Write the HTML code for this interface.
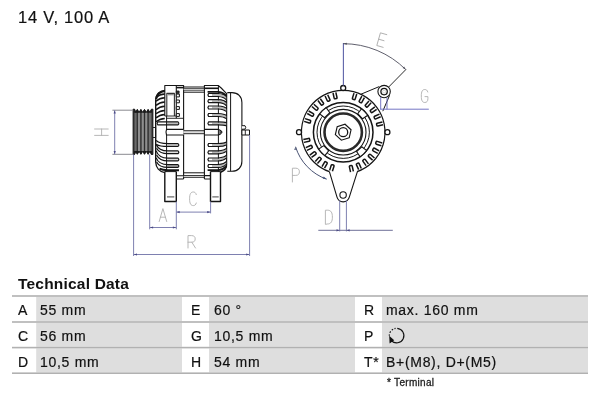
<!DOCTYPE html>
<html><head><meta charset="utf-8">
<style>
html,body{margin:0;padding:0;background:#fff;}
body{width:600px;height:400px;position:relative;overflow:hidden;font-family:"Liberation Sans",sans-serif;color:#111;}
#title,#th,#foot,.k,.v{will-change:transform;}
.k,.v{transform:translateY(0.6px);-webkit-text-stroke:0.2px #111;}
#title{position:absolute;left:18px;top:8px;-webkit-text-stroke:0.2px #111;font-size:16.5px;letter-spacing:0.75px;white-space:nowrap;}
#th{position:absolute;left:18.3px;top:275.1px;font-size:15.5px;font-weight:bold;letter-spacing:0.2px;white-space:nowrap;}
.row{position:absolute;left:12px;width:576px;height:25px;}
.cell{position:absolute;top:0.5px;height:25px;background:#dedede;}
.k{position:absolute;top:0;height:25px;line-height:26px;font-size:14px;letter-spacing:0.7px;}
.v{position:absolute;top:0;height:25px;line-height:26px;font-size:14px;letter-spacing:0.7px;white-space:nowrap;}
#foot{position:absolute;left:386.5px;top:376.9px;font-size:10px;letter-spacing:0.3px;-webkit-text-stroke:0.3px #222;color:#222;}
svg{position:absolute;left:0;top:0;}
</style></head><body>
<svg id="bg" width="600" height="400" viewBox="0 0 600 400">
<rect x="36.2" y="296.8" width="145.8" height="24.4" fill="#dedede"/>
<rect x="209" y="296.8" width="146.0" height="24.4" fill="#dedede"/>
<rect x="382" y="296.8" width="206.0" height="24.4" fill="#dedede"/>
<rect x="36.2" y="322.8" width="145.8" height="24.0" fill="#dedede"/>
<rect x="209" y="322.8" width="146.0" height="24.0" fill="#dedede"/>
<rect x="382" y="322.8" width="206.0" height="24.0" fill="#dedede"/>
<rect x="36.2" y="348.4" width="145.8" height="24.0" fill="#dedede"/>
<rect x="209" y="348.4" width="146.0" height="24.0" fill="#dedede"/>
<rect x="382" y="348.4" width="206.0" height="24.0" fill="#dedede"/>
<rect x="12" y="295.2" width="576" height="1.6" fill="#b1b1b1"/>
<rect x="12" y="321.2" width="576" height="1.6" fill="#b1b1b1"/>
<rect x="12" y="346.8" width="576" height="1.6" fill="#b1b1b1"/>
<rect x="12" y="372.4" width="576" height="1.6" fill="#b1b1b1"/>
</svg>
<div id="title">14 V, 100 A</div>
<div id="th">Technical Data</div>
<div class="row" style="top:296px">
 <span class="k" style="left:5.8px">A</span><span class="v" style="left:28.3px">55 mm</span>
 <span class="k" style="left:179.1px">E</span><span class="v" style="left:201.5px">60 °</span>
 <span class="k" style="left:351.8px">R</span><span class="v" style="left:374px">max. 160 mm</span>
</div>
<div class="row" style="top:322px">
 <span class="k" style="left:5.8px">C</span><span class="v" style="left:28.3px">56 mm</span>
 <span class="k" style="left:179.1px">G</span><span class="v" style="left:201.5px">10,5 mm</span>
 <span class="k" style="left:351.8px">P</span><span class="v" style="left:374px"></span>
</div>
<div class="row" style="top:347.5px">
 <span class="k" style="left:5.8px">D</span><span class="v" style="left:28.3px">10,5 mm</span>
 <span class="k" style="left:179.1px">H</span><span class="v" style="left:201.5px">54 mm</span>
 <span class="k" style="left:351.8px">T*</span><span class="v" style="left:374px">B+(M8), D+(M5)</span>
</div>
<div id="foot">* Terminal</div>
<svg id="draw" width="600" height="400" viewBox="0 0 600 400" fill="none">
<g stroke="#151515" stroke-width="1.1" stroke-linejoin="round" stroke-linecap="butt">
<path d="M133.1,109.2 L134.6,109.2 L135.7,112.3 L137.3,109.4 L139.1,112.3 L140.9,109.4 L142.7,112.3 L144.5,109.4 L146.3,112.3 L148.1,109.4 L149.9,112.3 L151.4,109.2 L152.9,109.2 L152.9,154.5 L151.4,154.5 L149.9,151.4 L148.1,154.3 L146.3,151.4 L144.5,154.3 L142.7,151.4 L140.9,154.3 L139.1,151.4 L137.3,154.3 L135.7,151.4 L134.6,154.5 L133.1,154.5Z" fill="#626262" stroke="#222" stroke-width="1"/>
<line x1="139.1" y1="112.5" x2="139.1" y2="151.2" stroke="#8e8e8e" stroke-width="2.3"/>
<line x1="142.7" y1="112.5" x2="142.7" y2="151.2" stroke="#8e8e8e" stroke-width="2.3"/>
<line x1="146.3" y1="112.5" x2="146.3" y2="151.2" stroke="#8e8e8e" stroke-width="2.3"/>
<line x1="135.7" y1="112.5" x2="135.7" y2="151.2" stroke="#6a6a6a" stroke-width="1.6"/>
<line x1="149.9" y1="112.5" x2="149.9" y2="151.2" stroke="#727272" stroke-width="1.8"/>
<line x1="137.3" y1="110.2" x2="137.3" y2="153.5" stroke="#2e2e2e" stroke-width="1.2"/>
<path d="M135.4,112.8 L137.3,109.10000000000001 L139.20000000000002,112.8Z M135.4,150.9 L137.3,154.6 L139.20000000000002,150.9Z" fill="#1a1a1a" stroke="none"/>
<line x1="140.9" y1="110.2" x2="140.9" y2="153.5" stroke="#2e2e2e" stroke-width="1.2"/>
<path d="M139.0,112.8 L140.9,109.10000000000001 L142.8,112.8Z M139.0,150.9 L140.9,154.6 L142.8,150.9Z" fill="#1a1a1a" stroke="none"/>
<line x1="144.5" y1="110.2" x2="144.5" y2="153.5" stroke="#2e2e2e" stroke-width="1.2"/>
<path d="M142.6,112.8 L144.5,109.10000000000001 L146.4,112.8Z M142.6,150.9 L144.5,154.6 L146.4,150.9Z" fill="#1a1a1a" stroke="none"/>
<line x1="148.1" y1="110.2" x2="148.1" y2="153.5" stroke="#2e2e2e" stroke-width="1.2"/>
<path d="M146.2,112.8 L148.1,109.10000000000001 L150.0,112.8Z M146.2,150.9 L148.1,154.6 L150.0,150.9Z" fill="#1a1a1a" stroke="none"/>
<path d="M133.1,109.2 H134.8 L136.2,112.8 H133.1Z M152.9,109.2 H151.2 L149.8,112.8 H152.9Z M133.1,154.5 H134.8 L136.2,150.9 H133.1Z M152.9,154.5 H151.2 L149.8,150.9 H152.9Z" fill="#1a1a1a" stroke="none"/>
<line x1="133.7" y1="109.2" x2="133.7" y2="154.5" stroke="#2a2a2a" stroke-width="1.3"/>
<line x1="152.3" y1="109.2" x2="152.3" y2="154.5" stroke="#2a2a2a" stroke-width="1.3"/>
<rect x="152.9" y="127.5" width="2.7" height="10" fill="#fff" stroke-width="0.9"/>
<path d="M164.8,94.0 C161.5,94.2 158.4,95.3 156.0,97.4" stroke-width="1.5"/>
<path d="M164.8,97.8 C161.5,98.0 158.4,99.1 156.0,101.2" stroke-width="1.5"/>
<path d="M164.8,102.0 C161.5,102.2 158.4,103.3 156.0,105.4" stroke-width="1.5"/>
<path d="M164.8,106.3 C161.5,106.5 158.4,107.6 156.0,109.7" stroke-width="1.5"/>
<path d="M164.8,110.4 C161.5,110.6 158.4,111.7 156.0,113.8" stroke-width="1.5"/>
<path d="M164.8,114.5 C161.5,114.7 158.4,115.8 156.0,117.9" stroke-width="1.5"/>
<path d="M164.8,118.4 C161.5,118.6 158.4,119.7 156.0,121.8" stroke-width="1.5"/>
<path d="M164.8,90.9 C160.2,91.5 156.8,94.4 156,99" stroke-width="2.2"/>
<path d="M164.8,90.6 C160,91.2 156.2,94.5 155.7,100 L155.7,162 C155.9,167.5 159.5,171.6 164.8,172.6" stroke-width="1.4"/>
<path d="M164.8,116 V85.5 H183.6 V179" />
<line x1="176.3" y1="85.5" x2="176.3" y2="118.3"/>
<line x1="176.3" y1="87.6" x2="183.6" y2="87.6" stroke-width="1.6"/>
<path d="M166.8,116 V93.4 H174.4 V116" stroke-width="1.1" stroke="#333"/>
<line x1="167.5" y1="94.7" x2="173.8" y2="94.7" stroke="#888" stroke-width="1.2"/>
<line x1="164.8" y1="116" x2="176.3" y2="116" stroke-width="0.9"/>
<line x1="166.6" y1="116" x2="166.6" y2="171.6" stroke-width="1"/>
<rect x="176.3" y="94.1" width="3.1" height="2.8" fill="#fff" stroke-width="1"/>
<rect x="176.3" y="100.0" width="3.1" height="2.8" fill="#fff" stroke-width="1"/>
<rect x="176.3" y="106.6" width="3.1" height="2.8" fill="#fff" stroke-width="1"/>
<rect x="176.3" y="113.6" width="3.1" height="2.8" fill="#fff" stroke-width="1"/>
<rect x="176.3" y="91" width="2.8" height="2.4" fill="#333" stroke-width="0.8"/>
<line x1="166.6" y1="118.3" x2="183.6" y2="118.3" stroke-width="0.9"/>
<rect x="167" y="122.4" width="11.4" height="2" fill="#bdbdbd" stroke="none"/>
<path d="M157.8,121.9 H178 Q179.6,123.4 178,124.9 H157.8 Q156.4,123.4 157.8,121.9Z" stroke-width="1.1"/>
<rect x="167" y="144" width="11.4" height="2" fill="#e4e4e4" stroke="none"/>
<path d="M156.2,140.4 C158,142.9 162,143.6 168,143.6 H178 Q179.6,145 178,146.4 H168 C162.5,146.4 158.6,145.8 156.6,144.4" stroke-width="1.2"/>
<rect x="167" y="151.3" width="11.4" height="2" fill="#e0e0e0" stroke="none"/>
<path d="M156.2,144.2 C158,149.0 162,150.9 168,150.9 H178 Q179.6,152.3 178,153.70000000000002 H168 C162.5,153.70000000000002 158.6,152.1 156.6,148.2" stroke-width="1.2"/>
<rect x="167" y="158.5" width="11.4" height="2" fill="#d8d8d8" stroke="none"/>
<path d="M156.2,150.9 C158,156.0 162,158.1 168,158.1 H178 Q179.6,159.5 178,160.9 H168 C162.5,160.9 158.6,159.1 156.6,154.9" stroke-width="1.2"/>
<rect x="167" y="165" width="11.4" height="2" fill="#b0b0b0" stroke="none"/>
<path d="M156.2,157.9 C158,162.7 162,164.6 168,164.6 H178 Q179.6,166 178,167.4 H168 C162.5,167.4 158.6,165.8 156.6,161.9" stroke-width="1.2"/>
<path d="M159.5,168.6 C162,170 165,170.2 168,170.2 H179" stroke-width="1.9"/>
<path d="M176.3,175.7 H183.6 M176.3,179 H183.6" stroke-width="1.1"/>
<line x1="183.6" y1="87" x2="204.4" y2="87" stroke-width="1.0"/>
<line x1="183.6" y1="88.5" x2="204.4" y2="88.5" stroke-width="1.0"/>
<line x1="183.6" y1="90.2" x2="204.4" y2="90.2" stroke-width="0.9"/>
<line x1="183.6" y1="92.2" x2="204.4" y2="92.2" stroke-width="1.0"/>
<rect x="183.6" y="88.6" width="20.8" height="1.5" fill="#ccc" stroke="none"/>
<line x1="183.6" y1="172.8" x2="204.4" y2="172.8" stroke-width="1.0"/>
<line x1="183.6" y1="175.6" x2="204.4" y2="175.6" stroke-width="1.0"/>
<line x1="183.6" y1="177.3" x2="204.4" y2="177.3" stroke-width="1.0"/>
<rect x="183.6" y="175.9" width="20.8" height="1.2" fill="#ccc" stroke="none"/>
<path d="M183.6,129.4 H166.5 Q165.4,132.2 166.5,135 H183.6" fill="#fff" stroke-width="1.1"/>
<rect x="183.6" y="130.9" width="20.8" height="2.6" fill="#ddd" stroke="none"/>
<line x1="183.6" y1="130.7" x2="204.4" y2="130.7" stroke-width="0.9"/>
<line x1="183.6" y1="133.7" x2="204.4" y2="133.7" stroke-width="0.9"/>
<path d="M204.4,129.4 H218.5 L220.5,130.4 L222,132.2 L220.5,134 L218.5,135 H204.4" fill="#fff" stroke-width="1.1"/>
<path d="M219.3,130 L221.7,132.2 L219.3,134.4Z" fill="#444" stroke="none"/>
<path d="M204.4,179 V85.5 H218.2 L221.2,88 L226.6,93.6" />
<line x1="204.4" y1="88.3" x2="218.4" y2="88.3" stroke-width="1.6"/>
<line x1="218.4" y1="85.5" x2="218.4" y2="172" stroke-width="1"/>
<path d="M226.9,93 V164 C226.5,168 224,171 220.6,172.2" stroke-width="1.7"/>
<path d="M212,94 H218.4 C222,94.32 224.6,95.44 226.2,97.20 L226.2,99.20 C224.4,97.44 222,96.32 218.4,96 H212Z" fill="#b8b8b8" stroke="none"/>
<path d="M226.5,96.70 C225,94.94 222,93.82 218.4,93.5 H208.6 Q207.2,95 208.6,96.5 H218.4 C222,96.82 224.6,97.94 226.1,99.70" stroke-width="1.2"/>
<path d="M212,100.2 H218.4 C222,100.48 224.6,101.46 226.2,103.00 L226.2,105.00 C224.4,103.46 222,102.48 218.4,102.2 H212Z" fill="#b8b8b8" stroke="none"/>
<path d="M226.5,102.50 C225,100.96 222,99.98 218.4,99.7 H208.6 Q207.2,101.2 208.6,102.7 H218.4 C222,102.98 224.6,103.96 226.1,105.50" stroke-width="1.2"/>
<path d="M212,106.5 H218.4 C222,106.74 224.6,107.58 226.2,108.90 L226.2,110.90 C224.4,109.58 222,108.74 218.4,108.5 H212Z" fill="#b8b8b8" stroke="none"/>
<path d="M226.5,108.40 C225,107.08 222,106.24 218.4,106.0 H208.6 Q207.2,107.5 208.6,109.0 H218.4 C222,109.24 224.6,110.08 226.1,111.40" stroke-width="1.2"/>
<path d="M212,114 H218.4 C222,114.20 224.6,114.90 226.2,116.00 L226.2,118.00 C224.4,116.90 222,116.20 218.4,116 H212Z" fill="#b8b8b8" stroke="none"/>
<path d="M226.5,115.50 C225,114.40 222,113.70 218.4,113.5 H208.6 Q207.2,115 208.6,116.5 H218.4 C222,116.70 224.6,117.40 226.1,118.50" stroke-width="1.2"/>
<path d="M207.6,91.8 H218.4 C222,92.3 224.6,93.5 226.4,96" stroke-width="1.7"/>
<path d="M212,122.4 H218.4 C222,122.48 224.6,122.76 226.2,123.20 L226.2,125.20 C224.4,124.76 222,124.48 218.4,124.4 H212Z" fill="#b8b8b8" stroke="none"/>
<path d="M226.5,122.70 C225,122.26 222,121.98 218.4,121.9 H208.6 Q207.2,123.4 208.6,124.9 H218.4 C222,124.98 224.6,125.26 226.1,125.70" stroke-width="1.2"/>
<path d="M212,144 H218.4 C222,143.84 224.6,143.28 226.2,142.40 L226.2,144.40 C224.4,145.28 222,145.84 218.4,146 H212Z" fill="#b8b8b8" stroke="none"/>
<path d="M226.5,141.90 C225,142.78 222,143.34 218.4,143.5 H208.6 Q207.2,145 208.6,146.5 H218.4 C222,146.34 224.6,145.78 226.1,144.90" stroke-width="1.2"/>
<path d="M212,151.3 H218.4 C222,151.06 224.6,150.22 226.2,148.90 L226.2,150.90 C224.4,152.22 222,153.06 218.4,153.3 H212Z" fill="#b8b8b8" stroke="none"/>
<path d="M226.5,148.40 C225,149.72 222,150.56 218.4,150.8 H208.6 Q207.2,152.3 208.6,153.8 H218.4 C222,153.56 224.6,152.72 226.1,151.40" stroke-width="1.2"/>
<path d="M212,158.5 H218.4 C222,158.22 224.6,157.24 226.2,155.70 L226.2,157.70 C224.4,159.24 222,160.22 218.4,160.5 H212Z" fill="#b8b8b8" stroke="none"/>
<path d="M226.5,155.20 C225,156.74 222,157.72 218.4,158.0 H208.6 Q207.2,159.5 208.6,161.0 H218.4 C222,160.72 224.6,159.74 226.1,158.20" stroke-width="1.2"/>
<path d="M212,165 H218.4 C222,164.68 224.6,163.56 226.2,161.80 L226.2,163.80 C224.4,165.56 222,166.68 218.4,167 H212Z" fill="#b8b8b8" stroke="none"/>
<path d="M226.5,161.30 C225,163.06 222,164.18 218.4,164.5 H208.6 Q207.2,166 208.6,167.5 H218.4 C222,167.18 224.6,166.06 226.1,164.30" stroke-width="1.2"/>
<path d="M207.6,170.2 H218.4 C222,169.8 224.2,168.6 226,166.4" stroke-width="1.7"/>
<path d="M204.4,175.6 H210.4 M204.4,179 H210.4" stroke-width="1.1"/>
<path d="M227.3,92.6 H232 C238,92.6 241.9,96.5 241.9,102.6 V161.2 C241.9,167.3 238,171.2 232,171.2 H227.3" fill="#fff" stroke-width="1.1"/>
<line x1="230.6" y1="92.6" x2="230.6" y2="171.2" stroke-width="1"/>
<path d="M241.9,125.7 H245 Q246.5,127.3 245,129.2 H241.9" fill="#fff" stroke-width="1"/>
<rect x="241.9" y="130" width="7.6" height="5" fill="#fff" stroke-width="1"/>
<line x1="245.3" y1="130" x2="245.3" y2="135" stroke-width="0.9"/>
<path d="M164.8,171.6 V201.5 H176.3 V171.6" fill="#fff" stroke-width="1.4"/>
<line x1="164.8" y1="171.6" x2="176.3" y2="171.6" stroke-width="1"/>
<line x1="167" y1="196.9" x2="174.3" y2="196.9" stroke="#555" stroke-width="1.1"/>
<path d="M210.5,171.6 V201.5 H220.5 V171.6" fill="#fff" stroke-width="1.4"/>
<line x1="210.5" y1="171.6" x2="220.5" y2="171.6" stroke-width="1"/>
<line x1="212.3" y1="196.9" x2="218.7" y2="196.9" stroke="#555" stroke-width="1.1"/>
</g>
<g stroke="#7e80b0" stroke-width="1" fill="none">
<line x1="112.4" y1="110.2" x2="133.1" y2="110.2" stroke="#8a8a90"/>
<line x1="112.4" y1="154.3" x2="133.1" y2="154.3" stroke="#8a8a90"/>
<line x1="114.7" y1="110.2" x2="114.7" y2="154.3"/>
<path d="M114.7,110.4 L115.8,113.6 L113.6,113.6Z" fill="#4a4a86" stroke="none"/>
<path d="M114.7,154.1 L113.6,150.9 L115.8,150.9Z" fill="#4a4a86" stroke="none"/>
<line x1="133.6" y1="154.5" x2="133.6" y2="256"/>
<line x1="249.6" y1="135" x2="249.6" y2="256"/>
<line x1="133.6" y1="254.5" x2="249.6" y2="254.5"/>
<path d="M133.8,254.5 L137.0,253.4 L137.0,255.6Z" fill="#4a4a86" stroke="none"/>
<path d="M249.4,254.5 L246.2,255.6 L246.2,253.4Z" fill="#4a4a86" stroke="none"/>
<line x1="149.7" y1="154.5" x2="149.7" y2="229.3"/>
<line x1="176.3" y1="201.5" x2="176.3" y2="229.3"/>
<line x1="149.7" y1="227.5" x2="176.3" y2="227.5"/>
<path d="M149.9,227.5 L153.1,226.4 L153.1,228.6Z" fill="#4a4a86" stroke="none"/>
<path d="M176.1,227.5 L172.9,228.6 L172.9,226.4Z" fill="#4a4a86" stroke="none"/>
<line x1="210.6" y1="201.5" x2="210.6" y2="213.4"/>
<line x1="176.3" y1="212.1" x2="210.6" y2="212.1"/>
<path d="M176.5,212.1 L179.7,211.0 L179.7,213.2Z" fill="#4a4a86" stroke="none"/>
<path d="M210.4,212.1 L207.2,213.2 L207.2,211.0Z" fill="#4a4a86" stroke="none"/>
</g>
<g stroke="#151515" stroke-width="1.1" fill="none" stroke-linecap="butt">
<path d="M329.32,171.63 A41.8,41.8 0 1 1 357.08,171.63" stroke-width="1.2"/>
<path d="M354.00,93.14 L352.40,98.19 Q352.13,99.05 352.99,99.32 L354.04,99.65 Q354.90,99.92 355.17,99.07 L356.76,94.01" stroke-width="1.5"/>
<path d="M361.88,96.24 L359.27,100.85 Q358.83,101.63 359.61,102.08 L360.57,102.62 Q361.35,103.06 361.80,102.28 L364.41,97.66" stroke-width="1.5"/>
<path d="M368.95,100.91 L365.44,104.88 Q364.84,105.55 365.52,106.15 L366.34,106.88 Q367.01,107.47 367.61,106.80 L371.12,102.83" stroke-width="1.5"/>
<path d="M374.89,106.94 L370.63,110.10 Q369.91,110.63 370.45,111.36 L371.10,112.24 Q371.63,112.96 372.36,112.43 L376.62,109.28" stroke-width="1.5"/>
<path d="M379.45,114.09 L374.63,116.28 Q373.81,116.66 374.18,117.48 L374.64,118.48 Q375.01,119.30 375.83,118.92 L380.65,116.72" stroke-width="1.5"/>
<path d="M382.43,122.02 L377.25,123.17 Q376.37,123.36 376.57,124.24 L376.81,125.31 Q377.00,126.19 377.88,126.00 L383.05,124.85" stroke-width="1.5"/>
<path d="M382.26,143.00 L377.21,141.40 Q376.35,141.13 376.08,141.99 L375.75,143.04 Q375.48,143.90 376.33,144.17 L381.39,145.76" stroke-width="1.5"/>
<path d="M379.16,150.88 L374.55,148.27 Q373.77,147.83 373.32,148.61 L372.78,149.57 Q372.34,150.35 373.12,150.80 L377.74,153.41" stroke-width="1.5"/>
<path d="M374.49,157.95 L370.52,154.44 Q369.85,153.84 369.25,154.52 L368.52,155.34 Q367.93,156.01 368.60,156.61 L372.57,160.12" stroke-width="1.5"/>
<path d="M368.46,163.89 L365.30,159.63 Q364.77,158.91 364.04,159.45 L363.16,160.10 Q362.44,160.63 362.97,161.36 L366.12,165.62" stroke-width="1.5"/>
<path d="M361.31,168.45 L359.12,163.63 Q358.74,162.81 357.92,163.18 L356.92,163.64 Q356.10,164.01 356.48,164.83 L358.68,169.65" stroke-width="1.5"/>
<path d="M353.38,171.43 L352.23,166.25 Q352.04,165.37 351.16,165.57 L350.09,165.81 Q349.21,166.00 349.40,166.88 L350.55,172.05" stroke-width="1.5"/>
<path d="M332.40,171.26 L334.00,166.21 Q334.27,165.35 333.41,165.08 L332.36,164.75 Q331.50,164.48 331.23,165.33 L329.64,170.39" stroke-width="1.5"/>
<path d="M324.52,168.16 L327.13,163.55 Q327.57,162.77 326.79,162.32 L325.83,161.78 Q325.05,161.34 324.60,162.12 L321.99,166.74" stroke-width="1.5"/>
<path d="M317.45,163.49 L320.96,159.52 Q321.56,158.85 320.88,158.25 L320.06,157.52 Q319.39,156.93 318.79,157.60 L315.28,161.57" stroke-width="1.5"/>
<path d="M311.51,157.46 L315.77,154.30 Q316.49,153.77 315.95,153.04 L315.30,152.16 Q314.77,151.44 314.04,151.97 L309.78,155.12" stroke-width="1.5"/>
<path d="M306.95,150.31 L311.77,148.12 Q312.59,147.74 312.22,146.92 L311.76,145.92 Q311.39,145.10 310.57,145.48 L305.75,147.68" stroke-width="1.5"/>
<path d="M303.97,142.38 L309.15,141.23 Q310.03,141.04 309.83,140.16 L309.59,139.09 Q309.40,138.21 308.52,138.40 L303.35,139.55" stroke-width="1.5"/>
<path d="M304.14,121.40 L309.19,123.00 Q310.05,123.27 310.32,122.41 L310.65,121.36 Q310.92,120.50 310.07,120.23 L305.01,118.64" stroke-width="1.5"/>
<path d="M307.24,113.52 L311.85,116.13 Q312.63,116.57 313.08,115.79 L313.62,114.83 Q314.06,114.05 313.28,113.60 L308.66,110.99" stroke-width="1.5"/>
<path d="M311.91,106.45 L315.88,109.96 Q316.55,110.56 317.15,109.88 L317.88,109.06 Q318.47,108.39 317.80,107.79 L313.83,104.28" stroke-width="1.5"/>
<path d="M317.94,100.51 L321.10,104.77 Q321.63,105.49 322.36,104.95 L323.24,104.30 Q323.96,103.77 323.43,103.04 L320.28,98.78" stroke-width="1.5"/>
<path d="M325.09,95.95 L327.28,100.77 Q327.66,101.59 328.48,101.22 L329.48,100.76 Q330.30,100.39 329.92,99.57 L327.72,94.75" stroke-width="1.5"/>
<path d="M333.02,92.97 L334.17,98.15 Q334.36,99.03 335.24,98.83 L336.31,98.59 Q337.19,98.40 337.00,97.52 L335.85,92.35" stroke-width="1.5"/>
<circle cx="343.20" cy="88.00" r="2.5" fill="#fff" stroke-width="1.3"/>
<circle cx="387.40" cy="132.20" r="2.5" fill="#fff" stroke-width="1.3"/>
<circle cx="299.00" cy="132.20" r="2.5" fill="#fff" stroke-width="1.3"/>
<circle cx="343.2" cy="132.2" r="29.8" stroke-width="1.5"/>
<circle cx="343.2" cy="132.2" r="26.2" stroke-width="1.0"/>
<circle cx="343.2" cy="132.2" r="22.8" stroke-width="1.1"/>
<circle cx="343.2" cy="132.2" r="18.7" stroke="#2a2a2a" stroke-width="2.6"/>
<path d="M361.55,108.72 A29.8,29.8 0 0 1 367.73,115.28 L362.63,118.80 L357.73,113.60Z" fill="#fff" stroke-width="1.1"/>
<path d="M366.68,150.55 A29.8,29.8 0 0 1 360.12,156.73 L356.60,151.63 L361.80,146.73Z" fill="#fff" stroke-width="1.1"/>
<path d="M324.85,155.68 A29.8,29.8 0 0 1 318.67,149.12 L323.77,145.60 L328.67,150.80Z" fill="#fff" stroke-width="1.1"/>
<path d="M319.72,113.85 A29.8,29.8 0 0 1 326.28,107.67 L329.80,112.77 L324.60,117.67Z" fill="#fff" stroke-width="1.1"/>
<polygon points="349.20,137.79 341.36,140.19 335.36,134.60 337.20,126.61 345.04,124.21 351.04,129.80" stroke-width="1.15"/>
<circle cx="343.2" cy="132.2" r="4.5" stroke-width="1.3"/>
<path d="M361,94.2 L379.2,86.6" stroke-width="1"/>
<path d="M389.6,95.3 L382.8,111.2" stroke-width="1"/>
<circle cx="384.1" cy="91.6" r="6.2" fill="#fff" stroke-width="1.1"/>
<circle cx="384.1" cy="91.6" r="3.2" stroke-width="1.3"/>
<circle cx="384.1" cy="91.6" r="1.5" stroke="#bdbdbd" stroke-width="0.6"/>
<line x1="388.6" y1="87.1" x2="406" y2="69.4" stroke-width="0.9"/>
<path d="M329.4,171.7 L337.0,197.2 A6.4,6.4 0 0 0 349.3,197.2 L357.4,171.7" stroke-width="1.1"/>
<circle cx="343.1" cy="195" r="3.2" stroke-width="1.1"/>
</g>
<g stroke="#7e80b0" stroke-width="1" fill="none">
<line x1="343.4" y1="43" x2="343.4" y2="85.4" stroke="#5d62a8" stroke-width="1.1"/>
<path d="M343.20,43.70 A88.5,88.5 0 0 1 405.78,69.62" stroke="#4e4e5c" stroke-width="0.9"/>
<path d="M343.4,43.7 L346.8,42.7 L346.8,44.7Z" fill="#4e4e5c" stroke="none"/>
<path d="M405.8,69.6 L402.7,67.9 L404.1,66.5Z" fill="#4e4e5c" stroke="none"/>
<line x1="380.7" y1="97" x2="380.7" y2="109.4" stroke="#7476c4"/>
<line x1="387" y1="97.6" x2="387" y2="109.4" stroke="#7476c4"/>
<line x1="380.2" y1="109.2" x2="428.8" y2="109.2" stroke="#7476c4" stroke-width="1"/>
<line x1="339.7" y1="200.5" x2="339.7" y2="231.4"/>
<line x1="346.4" y1="200.5" x2="346.4" y2="231.4"/>
<line x1="318.3" y1="230.3" x2="392.8" y2="230.3" stroke="#6e7098"/>
<path d="M339.5,230.3 L336.5,231.4 L336.5,229.2Z" fill="#4a4a86" stroke="none"/>
<path d="M346.6,230.3 L349.6,229.2 L349.6,231.4Z" fill="#4a4a86" stroke="none"/>
<path d="M295.58,146.76 A49.8,49.8 0 0 0 326.58,179.14" stroke="#465070" stroke-width="1"/>
<path d="M295.6,146.8 L295.8,150.1 L294.1,149.7Z" fill="#465070" stroke="none"/>
<path d="M326.9,179.2 L322.7,178.7 L323.7,176.5Z" fill="#4a5a80" stroke="none"/>
</g>
<g stroke="#afafaf" stroke-width="0.9" fill="none" stroke-linecap="round" stroke-linejoin="round">
<path d="M94.6,129 H108.2 M94.6,135.4 H108.2 M101.6,129 V135.4"/>
<path d="M159.2,221.5 L162.9,208.6 L166.7,221.5 M160.5,217.2 H165.4"/>
<path d="M196.3,194.6 C195.8,192.6 194.6,192 193.3,192 C190.8,192 189.6,194 189.6,198.8 C189.6,203.6 190.8,205.6 193.3,205.6 C194.6,205.6 195.8,205 196.3,203"/>
<path d="M188,248 V235.6 H191.6 C194.2,235.6 195.2,237 195.2,238.9 C195.2,240.9 194.2,242.2 191.6,242.2 H188 M191.8,242.2 L195.5,248"/>
<g transform="translate(381.5,40) rotate(16)"><path d="M3.6,-6.6 H-3 V6.6 H3.6 M-3,0 H2.6"/></g>
<path d="M427.8,92 C427.3,90.1 426.2,89.5 424.8,89.5 C422.4,89.5 421.3,91.5 421.3,96 C421.3,100.5 422.4,102.5 424.8,102.5 C426.8,102.5 427.9,101.2 427.9,98.6 V96.6 H425"/>
<path d="M292.4,182 V168.2 H295.8 C298.4,168.2 299.4,169.7 299.4,171.8 C299.4,173.9 298.4,175.4 295.8,175.4 H292.4"/>
<path d="M325.4,224 V210.2 H327.6 C331,210.2 332.4,212.6 332.4,217.1 C332.4,221.6 331,224 327.6,224 Z"/>
</g>
<g fill="none" stroke="#111" stroke-width="1.1">
<path d="M397.24,328.33 A7.3,7.3 0 1 1 391.44,340.76"/>
<path d="M389.30,335.85 A7.3,7.3 0 0 1 395.58,328.37" stroke-dasharray="1.6,1.5"/>
<path d="M389.2,335.8 L394.2,340.3 L389.6,343.6Z" fill="#111" stroke="none"/>
</g>
</svg>
</body></html>
